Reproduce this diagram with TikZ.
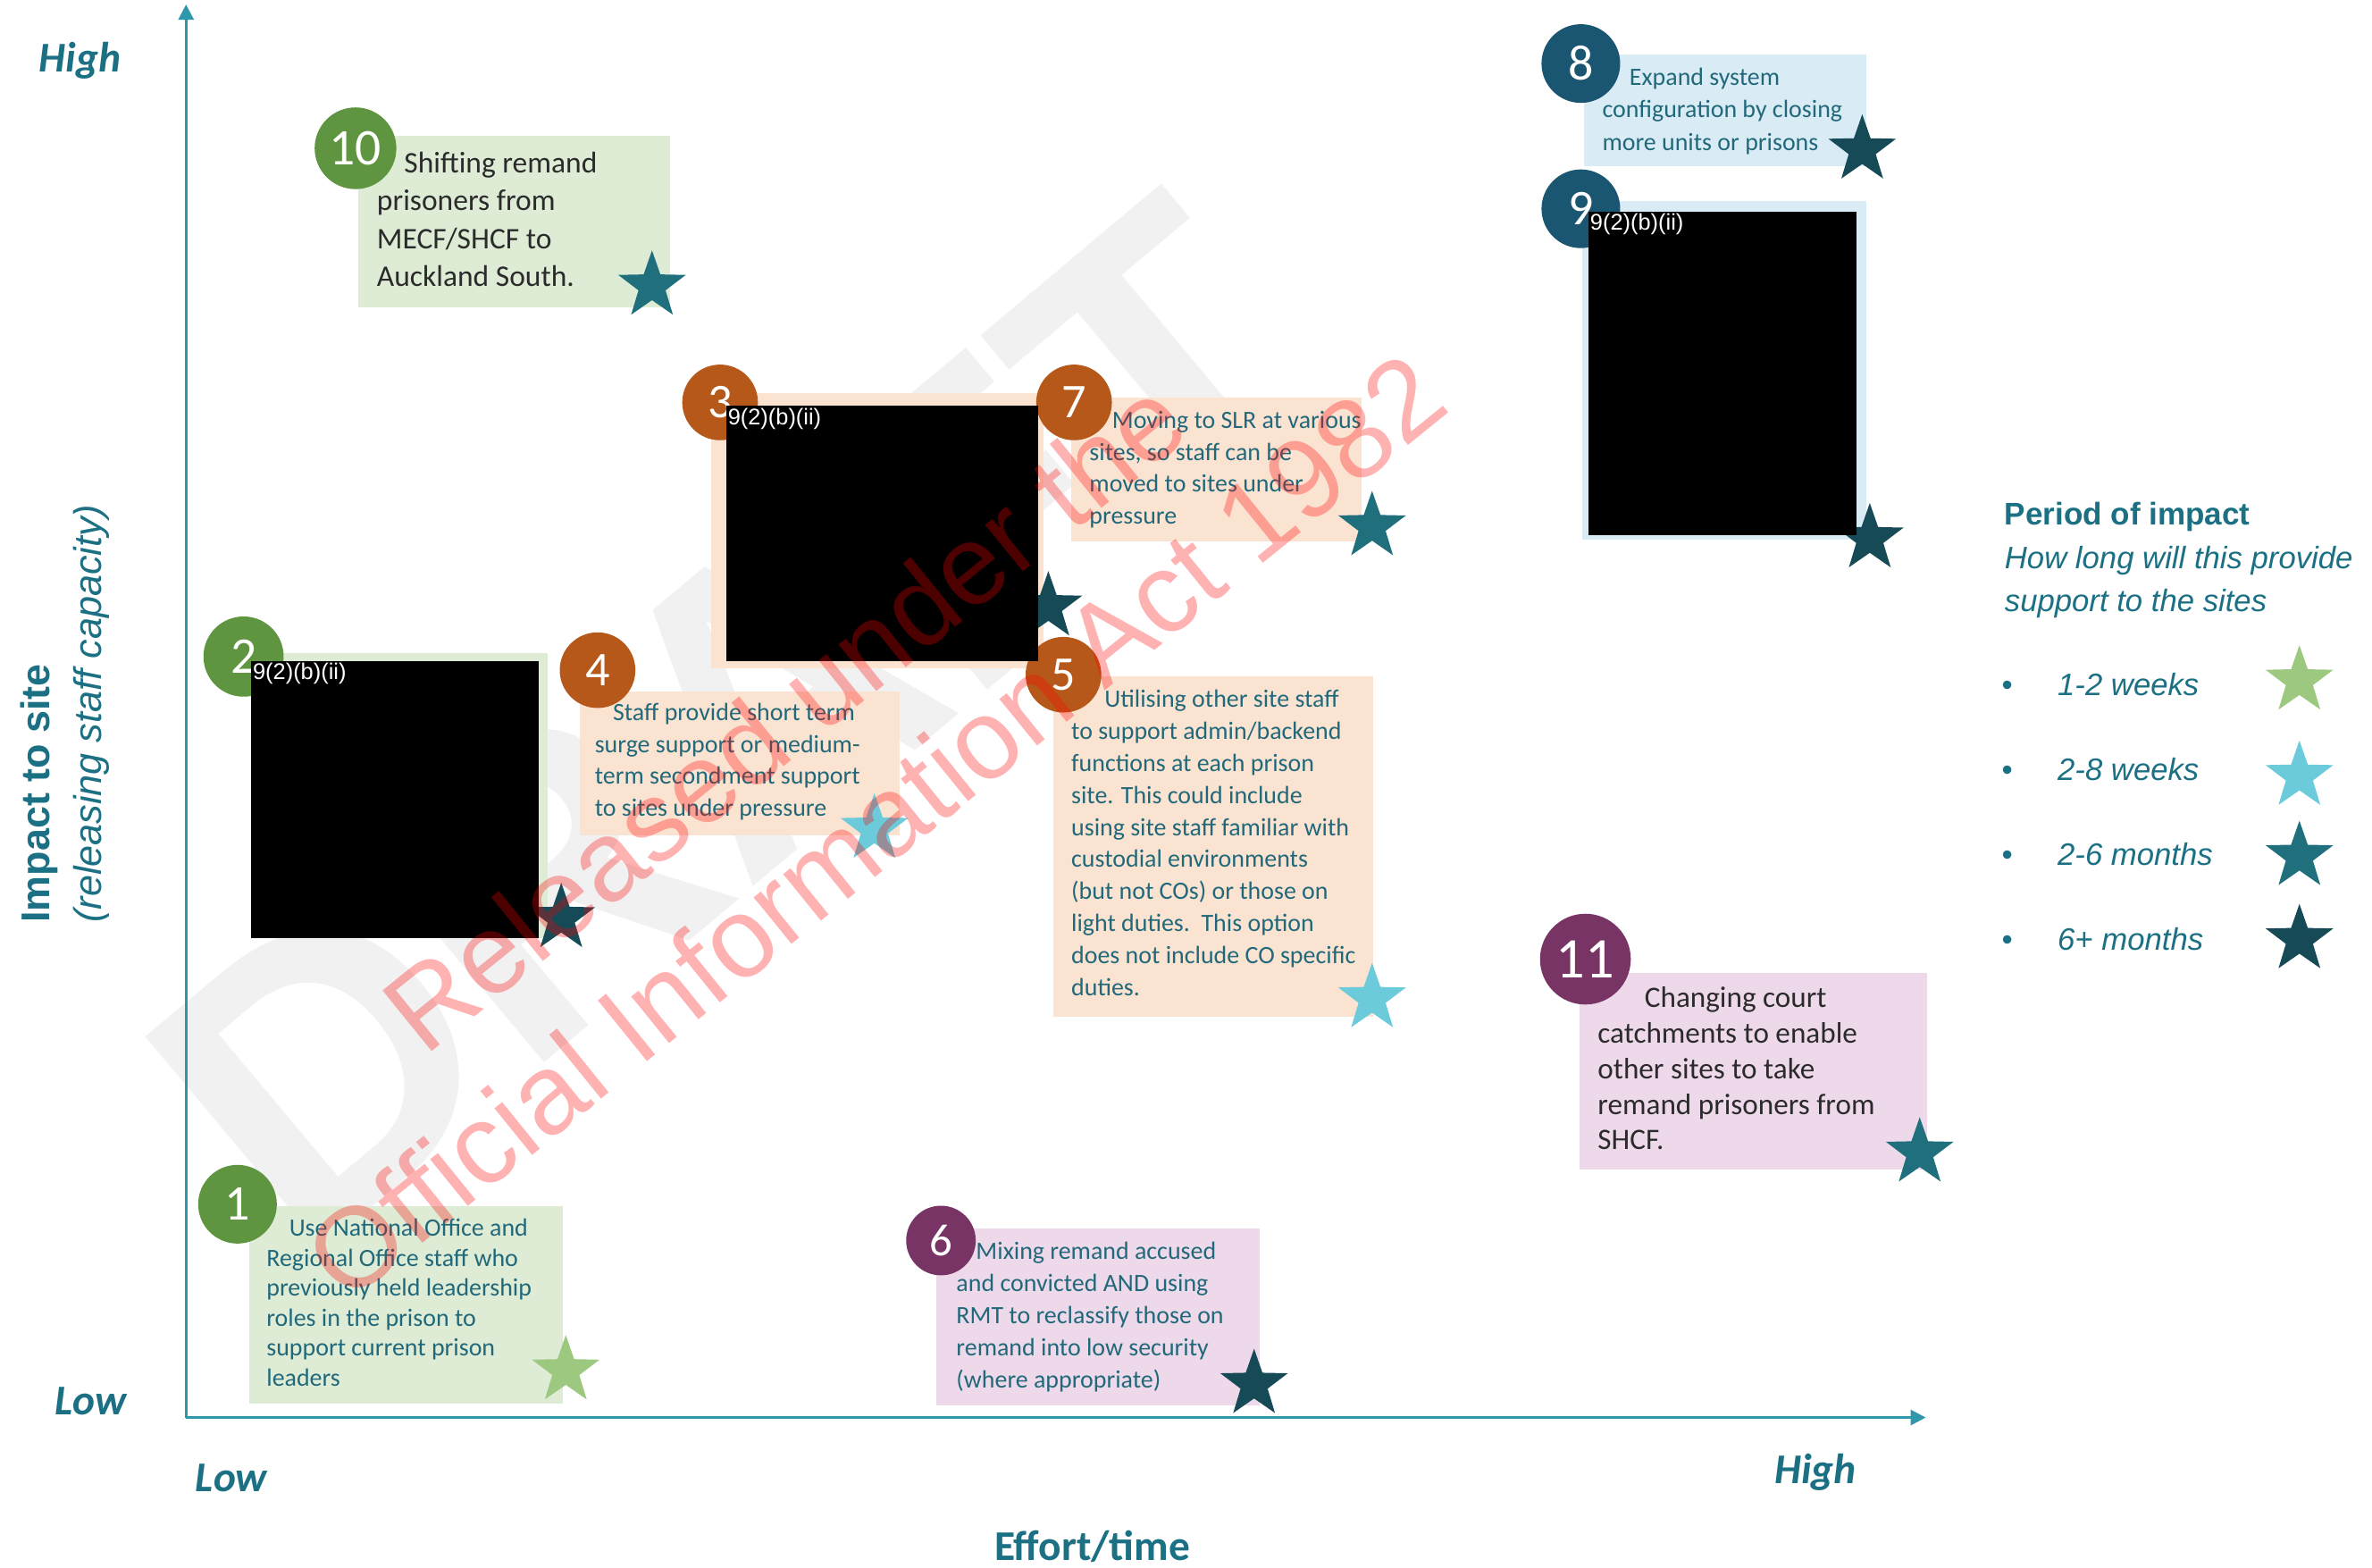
\documentclass[tikz,border=0pt]{standalone}
\usepackage{fontspec}
\setmainfont{Carlito}
\newfontfamily\arialf{Liberation Sans}
\usetikzlibrary{arrows.meta,shapes.geometric}
\definecolor{axisc}{HTML}{2F97AC}
\definecolor{lbltxt}{HTML}{1C7083}
\definecolor{boxtxt}{HTML}{21697A}
\definecolor{darktxt}{HTML}{2B2B2B}
\definecolor{gfill}{HTML}{DEECD5}
\definecolor{pfill}{HTML}{FBE3D2}
\definecolor{mfill}{HTML}{EED9EA}
\definecolor{bfill}{HTML}{D9ECF6}
\definecolor{gcirc}{HTML}{5F9540}
\definecolor{ocirc}{HTML}{B6581A}
\definecolor{mcirc}{HTML}{793466}
\definecolor{bcirc}{HTML}{1A5672}
\definecolor{starA}{HTML}{9CC97F}
\definecolor{starB}{HTML}{6BCBDB}
\definecolor{starC}{HTML}{1F6F7C}
\definecolor{starD}{HTML}{164A56}
\definecolor{draftgray}{HTML}{F1F1F1}
\begin{document}
\begin{tikzpicture}[x=1pt,y=-1pt,
  bgbox/.style={anchor=north west, inner sep=0pt, outer sep=0pt, draw=none, rectangle},
  redact/.style={anchor=north west, inner sep=0pt, outer sep=0pt, draw=none, fill=black, rectangle},
  redlbl/.style={anchor=base west, inner sep=0pt, text=white, font=\arialf\fontsize{15}{15}\selectfont},
  badge/.style={circle, inner sep=0pt, draw=none, text=white},
  starnode/.style={star, star points=5, star point ratio=2.5, minimum size=47pt, inner sep=0pt, draw=none},
  btext/.style={anchor=north west, inner sep=0pt, align=left, text=boxtxt},
  axis/.style={draw=axisc, line width=1.8pt, -{Triangle[width=10pt,length=10pt]}},
  axlbl/.style={text=lbltxt, inner sep=0pt, font=\bfseries\itshape\fontsize{28}{28}\selectfont},
  legtxt/.style={anchor=base west, inner sep=0pt, text=lbltxt}
]
\useasboundingbox (0,0) rectangle (1568,1036);
\fill[white] (0,0) rectangle (1568,1036);

% DRAFT watermark
\node[rotate=40, text=draftgray, inner sep=0pt, font=\arialf\bfseries\fontsize{265}{265}\selectfont] (draft) at (485,478) {DRAFT};

% axes
\coordinate (origin) at (123,937);
\coordinate (ytop) at (123,3);
\coordinate (xend) at (1273,937);
\draw[axis] (origin) -- (ytop);
\draw[axis] (origin) -- (xend);

% box backgrounds
\node[bgbox, fill=gfill, minimum width=206pt, minimum height=113pt] (b10) at (237,90) {};
\node[bgbox, fill=gfill, minimum width=196pt, minimum height=188pt] (b2) at (166,432) {};
\node[bgbox, fill=pfill, minimum width=220pt, minimum height=182pt] (b3) at (470,260) {};
\node[bgbox, fill=pfill, minimum width=192pt, minimum height=95pt] (b7) at (708,263) {};
\node[bgbox, fill=pfill, minimum width=212pt, minimum height=95pt] (b4) at (383,457) {};
\node[bgbox, fill=pfill, minimum width=212pt, minimum height=225pt] (b5) at (696,447) {};
\node[bgbox, fill=gfill, minimum width=207pt, minimum height=131pt] (b1) at (165,797) {};
\node[bgbox, fill=mfill, minimum width=214pt, minimum height=117pt] (b6) at (619,812) {};
\node[bgbox, fill=bfill, minimum width=187pt, minimum height=74pt] (b8) at (1047,36) {};
\node[bgbox, fill=bfill, minimum width=188pt, minimum height=224pt] (b9) at (1046,133) {};
\node[bgbox, fill=mfill, minimum width=230pt, minimum height=130pt] (b11) at (1044,643) {};

% number badges
\node[badge, fill=gcirc, minimum size=54pt, font=\fontsize{34}{34}\selectfont] (c10) at (235,98) {10};
\node[badge, fill=gcirc, minimum size=53pt, font=\fontsize{34}{34}\selectfont] (c2) at (161,434) {2};
\node[badge, fill=ocirc, minimum size=50pt, font=\fontsize{32}{32}\selectfont] (c3) at (476,266) {3};
\node[badge, fill=ocirc, minimum size=50pt, font=\fontsize{32}{32}\selectfont] (c7) at (710,266) {7};
\node[badge, fill=ocirc, minimum size=50pt, font=\fontsize{32}{32}\selectfont] (c4) at (395,443) {4};
\node[badge, fill=ocirc, minimum size=50pt, font=\fontsize{32}{32}\selectfont] (c5) at (703,446) {5};
\node[badge, fill=gcirc, minimum size=52pt, font=\fontsize{33}{33}\selectfont] (c1) at (157,796) {1};
\node[badge, fill=mcirc, minimum size=46pt, font=\fontsize{30}{30}\selectfont] (c6) at (622,820) {6};
\node[badge, fill=bcirc, minimum size=52pt, font=\fontsize{33}{33}\selectfont] (c8) at (1045,42) {8};
\node[badge, fill=bcirc, minimum size=52pt, font=\fontsize{33}{33}\selectfont] (c9) at (1045,138) {9};
\node[badge, fill=mcirc, minimum size=60pt, font=\fontsize{38}{38}\selectfont] (c11) at (1048,634) {11};

% stars
\node[starnode, fill=starC] (s10) at (431,189) {};
\node[starnode, fill=starD] (s2) at (371,607) {};
\node[starnode, fill=starD] (s3) at (693,401) {};
\node[starnode, fill=starC] (s7) at (907,348) {};
\node[starnode, fill=starB] (s4) at (578,548) {};
\node[starnode, fill=starB] (s5) at (907,660) {};
\node[starnode, fill=starA] (s1) at (374,906) {};
\node[starnode, fill=starD] (s6) at (829,915) {};
\node[starnode, fill=starD] (s8) at (1231,99) {};
\node[starnode, fill=starD] (s9) at (1236,356) {};
\node[starnode, fill=starC] (s11) at (1269,762) {};

% redactions
\node[redact, minimum width=190pt, minimum height=183pt] (k2) at (166,437) {};
\node[redact, minimum width=206pt, minimum height=169pt] (k3) at (480,268) {};
\node[redact, minimum width=177pt, minimum height=214pt] (k9) at (1050,140) {};
\node[redlbl] (k2l) at (167,449) {9(2)(b)(ii)};
\node[redlbl] (k3l) at (481,281) {9(2)(b)(ii)};
\node[redlbl] (k9l) at (1051,152) {9(2)(b)(ii)};

% box texts
\node[btext, text=darktxt, font=\fontsize{19.8}{25}\selectfont] (t10) at (249,96.5)
  {\strut\hspace*{18pt}Shifting remand\\prisoners from\\MECF/SHCF to\\Auckland South.};
\node[btext, font=\fontsize{16.5}{21}\selectfont] (t7) at (720,268.4)
  {\strut\hspace*{15pt}Moving to SLR at various\\sites, so staff can be\\moved to sites under\\pressure};
\node[btext, font=\fontsize{16.5}{21}\selectfont] (t4) at (393,461.4)
  {\strut\hspace*{12pt}Staff provide short term\\surge support or medium-\\term secondment support\\to sites under pressure};
\node[btext, font=\fontsize{16.5}{21.2}\selectfont] (t5) at (708,452.4)
  {\strut\hspace*{22pt}Utilising other site staff\\to support admin/backend\\functions at each prison\\site. This could include\\using site staff familiar with\\custodial environments\\(but not COs) or those on\\light duties.\ \ This option\\does not include CO specific\\duties.};
\node[btext, font=\fontsize{16.5}{19.8}\selectfont] (t1) at (176,803.2)
  {\strut\hspace*{15pt}Use National Office and\\Regional Office staff who\\previously held leadership\\roles in the prison to\\support current prison\\leaders};
\node[btext, font=\fontsize{16.5}{21.2}\selectfont] (t6) at (632,817.4)
  {\strut\hspace*{13pt}Mixing remand accused\\and convicted AND using\\RMT to reclassify those on\\remand into low security\\(where appropriate)};
\node[btext, font=\fontsize{16.5}{21.5}\selectfont] (t8) at (1059,41.1)
  {\strut\hspace*{18pt}Expand system\\configuration by closing\\more units or prisons};
\node[btext, text=darktxt, font=\fontsize{19.6}{23.5}\selectfont] (t11) at (1056,649.4)
  {\strut\hspace*{31pt}Changing court\\catchments to enable\\other sites to take\\remand prisoners from\\SHCF.};

% axis labels
\node[axlbl] (yhigh) at (53,40) {High};
\node[axlbl] (ylow) at (60,926) {Low};
\node[axlbl] (xlow) at (153,977) {Low};
\node[axlbl] (xhigh) at (1200,973) {High};
\node[text=lbltxt, inner sep=0pt, font=\bfseries\fontsize{28}{28}\selectfont] (xtitle) at (722,1022) {Effort/time};
\node[rotate=90, anchor=base west, inner sep=0pt, text=lbltxt, font=\arialf\bfseries\fontsize{26.5}{26.5}\selectfont] (ytitle) at (33,610) {Impact to site};
\node[rotate=90, anchor=base west, inner sep=0pt, text=lbltxt, font=\arialf\itshape\fontsize{25.5}{25.5}\selectfont] (ysub) at (67,610) {(releasing staff capacity)};

% legend
\node[legtxt, font=\arialf\bfseries\fontsize{20.7}{20.7}\selectfont] (legtitle) at (1325,347) {Period of impact};
\node[legtxt, font=\arialf\itshape\fontsize{20.5}{20.5}\selectfont] (legsub1) at (1325,376) {How long will this provide};
\node[legtxt, font=\arialf\itshape\fontsize{20.5}{20.5}\selectfont] (legsub2) at (1325,404) {support to the sites};
\node[legtxt, font=\arialf\fontsize{20.5}{20.5}\selectfont] (bul1) at (1323,460) {\textbullet};
\node[legtxt, font=\arialf\fontsize{20.5}{20.5}\selectfont] (bul2) at (1323,516) {\textbullet};
\node[legtxt, font=\arialf\fontsize{20.5}{20.5}\selectfont] (bul3) at (1323,572) {\textbullet};
\node[legtxt, font=\arialf\fontsize{20.5}{20.5}\selectfont] (bul4) at (1323,628) {\textbullet};
\node[legtxt, font=\arialf\itshape\fontsize{20.5}{20.5}\selectfont] (leg1) at (1360,460) {1-2 weeks};
\node[legtxt, font=\arialf\itshape\fontsize{20.5}{20.5}\selectfont] (leg2) at (1360,516) {2-8 weeks};
\node[legtxt, font=\arialf\itshape\fontsize{20.5}{20.5}\selectfont] (leg3) at (1360,572) {2-6 months};
\node[legtxt, font=\arialf\itshape\fontsize{20.5}{20.5}\selectfont] (leg4) at (1360,628) {6+ months};
\node[starnode, fill=starA] (ls1) at (1520,450) {};
\node[starnode, fill=starB] (ls2) at (1520,513) {};
\node[starnode, fill=starC] (ls3) at (1520,566) {};
\node[starnode, fill=starD] (ls4) at (1520,621) {};

% release watermark
\node[rotate=39, align=center, inner sep=0pt, text=red, text opacity=0.3, font=\arialf\fontsize{75}{95}\selectfont] (wm) at (548,509) {Released under the\\Official Information Act 1982};
\end{tikzpicture}
\end{document}
